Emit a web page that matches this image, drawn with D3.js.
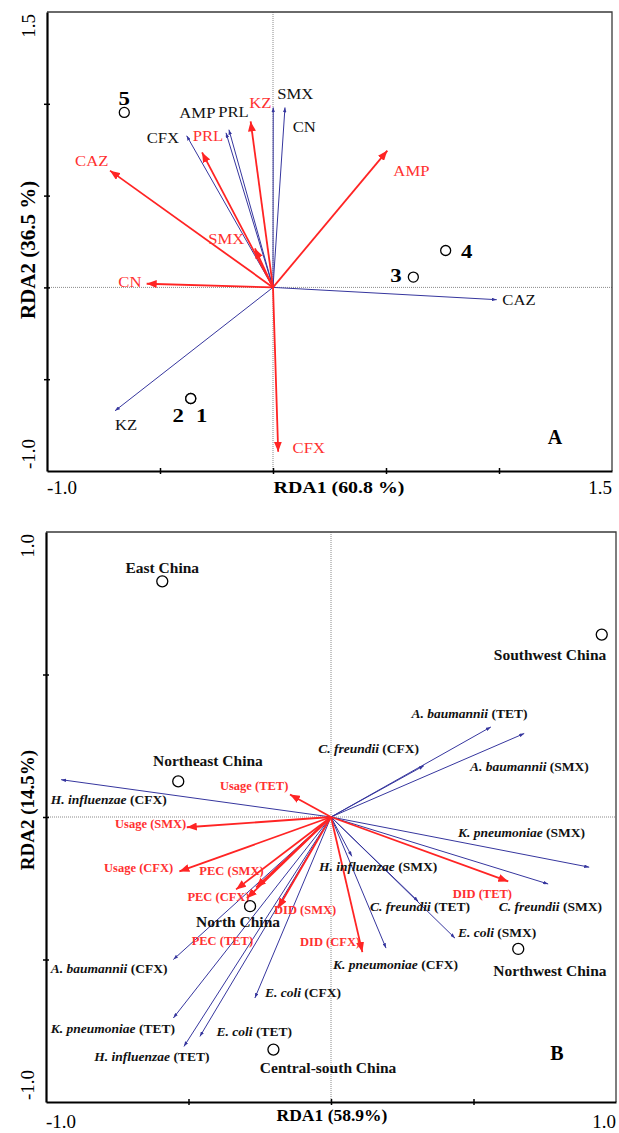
<!DOCTYPE html>
<html><head><meta charset="utf-8">
<script src="https://cdn.jsdelivr.net/npm/d3@7"></script>
<style>body{margin:0;background:#fff}svg{display:block}text{font-family:"Liberation Serif","Times New Roman",serif}</style>
</head><body>
<script>
// ---------------- DATA: Panel A ----------------
const aSpeciesLabels = ["CFX","AMP","PRL","SMX","CN","CAZ","KZ"];
const aSpeciesX = [-0.382,-0.208,-0.195,0.001,0.053,0.990,-0.699];
const aSpeciesY = [0.826,0.842,0.859,0.980,0.980,-0.067,-0.672];
const aEnvLabels = ["KZ","PRL","CAZ","SMX","AMP","CN","CFX"];
const aEnvX = [-0.099,-0.314,-0.721,-0.080,0.506,-0.559,0.023];
const aEnvY = [0.904,0.735,0.636,0.212,0.745,0.020,-0.895];
const aSiteLabels = ["1","2","3","4","5"];
const aSiteX = [-0.364,-0.364,0.621,0.764,-0.658];
const aSiteY = [-0.605,-0.605,0.056,0.201,0.953];
const aXTickLabels = ["-1.0","1.5"];
const aYTickLabels = ["-1.0","1.5"];
const aXTitle = "RDA1 (60.8 %)";
const aYTitle = "RDA2 (36.5 %)";

// ---------------- DATA: Panel B ----------------
const bSpeciesNames = ["H. influenzae","A. baumannii","A. baumannii","C. freundii","K. pneumoniae","C. freundii","H. influenzae","C. freundii","E. coli","K. pneumoniae","A. baumannii","E. coli","K. pneumoniae","E. coli","H. influenzae"];
const bSpeciesDrug = ["CFX","TET","SMX","CFX","SMX","SMX","SMX","TET","SMX","CFX","CFX","CFX","TET","TET","TET"];
const bSpeciesX = [-0.947,0.561,0.678,0.326,0.906,0.762,0.073,0.306,0.435,0.193,-0.553,-0.267,-0.553,-0.460,-0.516];
const bSpeciesY = [0.131,0.316,0.293,0.180,-0.176,-0.235,-0.138,-0.296,-0.425,-0.460,-0.500,-0.635,-0.705,-0.770,-0.805];
const bEnvLabels = ["Usage (TET)","Usage (SMX)","Usage (CFX)","PEC (SMX)","PEC (CFX)","PEC (TET)","DID (SMX)","DID (CFX)","DID (TET)"];
const bEnvX = [-0.144,-0.506,-0.532,-0.263,-0.333,-0.295,-0.186,0.110,0.622];
const bEnvY = [0.079,-0.036,-0.191,-0.247,-0.254,-0.285,-0.320,-0.474,-0.226];
const bSiteLabels = ["East China","Northeast China","Southwest China","North China","Central-south China","Northwest China"];
const bSiteX = [-0.592,-0.536,0.950,-0.284,-0.202,0.657];
const bSiteY = [0.827,0.125,0.640,-0.313,-0.816,-0.463];
const bXTickLabels = ["-1.0","1.0"];
const bYTickLabels = ["-1.0","1.0"];
const bXTitle = "RDA1 (58.9%)";
const bYTitle = "RDA2 (14.5%)";

// ---------------- LAYOUT (label nudges, px) ----------------
const aSpeciesOff = [[-40,7.7],[-46.7,-15.3],[-10.7,-12.3],[4,-8.4],[7.7,25],[5.6,5.7],[0,19.3]];
const aEnvOff = [[-1.4,-13.4],[-9.3,-11],[-35,-4.3],[-46.7,-4],[6,25],[-28.4,3.4],[14.4,1.6]];
const aSiteOff = [[11,23.4],[-12.5,23.4],[-17.5,5.3],[21,8],[0,-7.7]];
const bSpeciesOff = [[-10.3,24.7],[-79.3,-9],[-54.3,37.7],[-105.7,-12.6],[-131.3,-30],[-49.3,27.3],[-32.7,15],[-48.3,10],[3,-0.7],[-53,21.3],[-122.6,13.4],[10,-0.7],[-122.6,15],[16.7,0],[-89.7,15]];
const bEnvOff = [[-70,-4],[-71.7,0.7],[-75.3,0.7],[-56.7,-12],[-48.7,12],[-55.3,47],[-4,6],[-62.3,-6.4],[-55.6,16.7]];
const bSiteOff = [[0,-8],[29.7,-15],[-51.7,25.7],[-12,20.5],[54.7,23.4],[31.7,27.3]];

const BLUE = "#36369e", RED = "#ff2424", REDTXT = "#ff3030";

const svg = d3.select("body").append("svg").attr("width",619).attr("height",1133);
const defs = svg.append("defs");
function marker(id,color,len,hw){
  defs.append("marker").attr("id",id).attr("viewBox",`0 ${-hw} ${len} ${2*hw}`)
    .attr("refX",len).attr("refY",0).attr("markerWidth",len).attr("markerHeight",2*hw)
    .attr("markerUnits","userSpaceOnUse").attr("orient","auto")
    .append("path").attr("d",`M0,${-hw}L${len},0L0,${hw}Z`).attr("fill",color);
}
marker("mb",BLUE,5,1.8);
marker("mr",RED,10,4);

function frame(g,x,y,xt,yt,xTicks,yTicks,xTickLbl,yTickLbl,xTitle,yTitle,titleStyle){
  const [x0,x1]=x.range(), [y1,y0]=y.range();
  g.append("line").attr("x1",x(0)).attr("x2",x(0)).attr("y1",y0).attr("y2",y1)
    .attr("stroke","#8a8a8a").attr("stroke-dasharray","1,1");
  g.append("line").attr("x1",x0).attr("x2",x1).attr("y1",y(0)).attr("y2",y(0))
    .attr("stroke","#8a8a8a").attr("stroke-dasharray","1,1");
  g.append("path").attr("d",`M${x0},${y0}H${x1}V${y1}`).attr("fill","none").attr("stroke","#3a3a3a").attr("stroke-width",1.3);
  const ax = g.append("g").attr("transform",`translate(0,${y1})`)
    .call(d3.axisBottom(x).tickValues(xTicks).tickSizeOuter(0).tickFormat(""));
  ax.selectAll(".tick line").attr("y1",-3).attr("y2",3).attr("stroke-width",1.5);
  ax.select(".domain").attr("stroke-width",2.2);
  const ay = g.append("g").attr("transform",`translate(${x0},0)`)
    .call(d3.axisLeft(y).tickValues(yTicks).tickSizeOuter(0).tickFormat(""));
  ay.selectAll(".tick line").attr("x1",3).attr("x2",-3).attr("stroke-width",1.5);
  ay.select(".domain").attr("stroke-width",2.2);
  g.append("text").attr("x",x0).attr("y",xt).attr("font-size",19).text(xTickLbl[0]);
  g.append("text").attr("x",x1).attr("y",xt).attr("font-size",19).attr("text-anchor","end").text(xTickLbl[1]);
  g.append("text").attr("transform",`translate(${yt},${y1-2}) rotate(-90)`).attr("font-size",19).text(yTickLbl[0]);
  g.append("text").attr("transform",`translate(${yt},${y0+2}) rotate(-90)`).attr("font-size",19).attr("text-anchor","end").text(yTickLbl[1]);
  g.append("text").attr("transform",`translate(${titleStyle.xc},${titleStyle.xb}) scale(${titleStyle.sx},1)`)
    .attr("font-size",titleStyle.xs).attr("font-weight","bold").attr("text-anchor","middle").text(xTitle);
  g.append("text").attr("transform",`translate(${yt},${titleStyle.yc}) rotate(-90)`)
    .attr("font-size",titleStyle.ys).attr("font-weight","bold").attr("text-anchor","middle").text(yTitle);
}

function arrows(g,x,y,xs,ys,color,mk,w){
  g.selectAll(null).data(xs.map((v,i)=>[v,ys[i]])).join("line")
    .attr("x1",x(0)).attr("y1",y(0)).attr("x2",d=>x(d[0])).attr("y2",d=>y(d[1]))
    .attr("stroke",color).attr("stroke-width",w).attr("marker-end",`url(#${mk})`);
}

// ================= PANEL A =================
{
  const x = d3.scaleLinear().domain([-1,1.5]).range([47,612]);
  const y = d3.scaleLinear().domain([-1,1.5]).range([471,12]);
  const g = svg.append("g");
  frame(g,x,y,494,35,[-0.5,0,0.5,1.0],[-0.5,0,0.5,1.0],aXTickLabels,aYTickLabels,aXTitle,aYTitle,
    {xc:339,xb:493,sx:1.17,xs:17,yc:250,ys:21});
  arrows(g,x,y,aSpeciesX,aSpeciesY,BLUE,"mb",1);
  arrows(g,x,y,aEnvX,aEnvY,RED,"mr",1.8);
  const SX=1.15;
  aSpeciesLabels.forEach((l,i)=>{
    g.append("text").attr("transform",`translate(${x(aSpeciesX[i])+aSpeciesOff[i][0]},${y(aSpeciesY[i])+aSpeciesOff[i][1]}) scale(${SX},1)`)
      .attr("font-size",14.5).attr("fill","#111").text(l);
  });
  aEnvLabels.forEach((l,i)=>{
    g.append("text").attr("transform",`translate(${x(aEnvX[i])+aEnvOff[i][0]},${y(aEnvY[i])+aEnvOff[i][1]}) scale(${SX},1)`)
      .attr("font-size",14.5).attr("fill",REDTXT).text(l);
  });
  aSiteLabels.forEach((l,i)=>{
    g.append("circle").attr("cx",x(aSiteX[i])).attr("cy",y(aSiteY[i])).attr("r",5)
      .attr("fill","#fff").attr("stroke","#000").attr("stroke-width",1.3);
    g.append("text").attr("transform",`translate(${x(aSiteX[i])+aSiteOff[i][0]},${y(aSiteY[i])+aSiteOff[i][1]}) scale(1.2,1)`)
      .attr("font-size",19).attr("font-weight","bold").attr("text-anchor","middle").text(l);
  });
  g.append("text").attr("x",555).attr("y",444).attr("font-size",20).attr("font-weight","bold")
    .attr("text-anchor","middle").text("A");
}

// ================= PANEL B =================
{
  const x = d3.scaleLinear().domain([-1,1]).range([46,616]);
  const y = d3.scaleLinear().domain([-1,1]).range([1102,532]);
  const g = svg.append("g");
  frame(g,x,y,1128,34,[-0.5,0,0.5],[-0.5,0,0.5],bXTickLabels,bYTickLabels,bXTitle,bYTitle,
    {xc:332,xb:1121,sx:1,xs:17.5,yc:810,ys:19});
  arrows(g,x,y,bSpeciesX,bSpeciesY,BLUE,"mb",1);
  arrows(g,x,y,bEnvX,bEnvY,RED,"mr",1.8);
  bSpeciesNames.forEach((n,i)=>{
    const t = g.append("text").attr("x",x(bSpeciesX[i])+bSpeciesOff[i][0]).attr("y",y(bSpeciesY[i])+bSpeciesOff[i][1])
      .attr("font-size",13.5).attr("font-weight","bold").attr("fill","#111");
    t.append("tspan").attr("font-style","italic").text(n);
    t.append("tspan").text(" ("+bSpeciesDrug[i]+")");
  });
  bEnvLabels.forEach((l,i)=>{
    g.append("text").attr("x",x(bEnvX[i])+bEnvOff[i][0]).attr("y",y(bEnvY[i])+bEnvOff[i][1])
      .attr("font-size",12.5).attr("font-weight","bold").attr("fill",REDTXT).text(l);
  });
  bSiteLabels.forEach((l,i)=>{
    g.append("circle").attr("cx",x(bSiteX[i])).attr("cy",y(bSiteY[i])).attr("r",5.5)
      .attr("fill","none").attr("stroke","#000").attr("stroke-width",1.3);
    g.append("text").attr("x",x(bSiteX[i])+bSiteOff[i][0]).attr("y",y(bSiteY[i])+bSiteOff[i][1])
      .attr("font-size",15.5).attr("font-weight","bold").attr("text-anchor","middle").attr("fill","#111").text(l);
  });
  g.append("text").attr("x",557).attr("y",1060).attr("font-size",20).attr("font-weight","bold")
    .attr("text-anchor","middle").text("B");
}
</script>
</body></html>
